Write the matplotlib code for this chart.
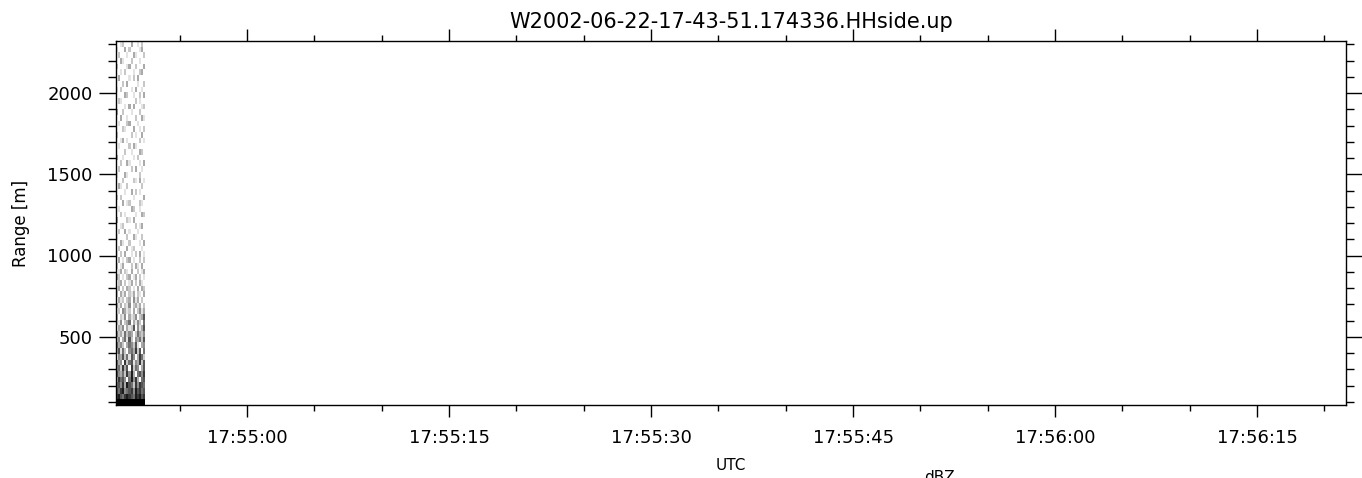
import datetime as dt
import matplotlib
matplotlib.use("Agg")
import matplotlib.pyplot as plt
import matplotlib.dates as mdates
import numpy as np

# radar reflectivity strip (darkness 0..9), rows top (far range) -> bottom (near range)
refl_rows = [
    "00120003001020", "10003020000130", "02000100310002", "00310002000100",
    "20000130020003", "00102000100230", "03000010203000", "00020300001002",
    "10200001030010", "00003200100203", "02100000020100", "00001030300012",
    "30020001000200", "00300100020031", "01000230001000", "00021000300102",
    "20000002010030", "00130100000201", "01000020310000", "00002001000320",
    "30010000102000", "00200310000103", "02000002030010", "10003100000200",
    "00020000210301", "03100200000020", "00001003020100", "20200000100003",
    "00030120000210", "01000003200100", "00201000010032", "30000210300000",
    "00120000020130", "02003010001000", "10000200310020", "00310020000103",
    "02000301200010",
    "10203001020301", "03010230100202", "20130002031030", "01302103002013",
    "32010230130201", "02302013020310", "13020320103032", "20313021302103",
    "03120230413020", "31302140231302", "12043120302413", "30214031240236",
    "21402350314205", "03240312604136",
    "42315243025324", "24035162043526", "53420354261034", "36152045372605",
    "04362516403752", "53407256143726", "45273607254036", "64352748305647",
    "37564058473056", "56473865274765", "65784567486756", "78657876587867",
    "99999999999999",
]
range_min, range_max = 80, 2320          # m
t_start = dt.datetime(2002, 6, 22, 17, 54, 50, 270000)
t_step = 0.154                           # s per profile
t_view = (dt.datetime(2002, 6, 22, 17, 54, 50, 270000),
          dt.datetime(2002, 6, 22, 17, 56, 21, 600000))
title = "W2002-06-22-17-43-51.174336.HHside.up"

refl = np.array([[int(c) for c in r] for r in refl_rows], dtype=float)[::-1]
n_rows, n_cols = refl.shape
t_edges = mdates.date2num([t_start + dt.timedelta(seconds=i * t_step) for i in range(n_cols + 1)])
r_edges = np.linspace(range_min, range_max, n_rows + 1)

fig = plt.figure(figsize=(13.62, 4.78), dpi=100)
ax = fig.add_axes([116 / 1362, 73 / 478, 1230 / 1362, 364 / 478])
ax.pcolormesh(t_edges, r_edges, refl, cmap="gray_r", vmin=0, vmax=9, shading="flat")

ax.set_xlim(mdates.date2num(t_view[0]), mdates.date2num(t_view[1]))
ax.set_ylim(range_min, range_max)

ax.xaxis.set_major_locator(mdates.SecondLocator(bysecond=range(0, 60, 15)))
ax.xaxis.set_minor_locator(mdates.SecondLocator(bysecond=range(0, 60, 5)))
ax.xaxis.set_major_formatter(mdates.DateFormatter("%H:%M:%S"))
ax.set_yticks([500, 1000, 1500, 2000])
ax.set_yticks(np.arange(100, 2400, 100), minor=True)

ax.tick_params(axis="both", which="both", direction="out", top=True, right=True,
               width=1, color="black", labelsize=13)
ax.tick_params(axis="x", which="major", length=8.5, pad=9)
ax.tick_params(axis="x", which="minor", length=4)
ax.tick_params(axis="y", which="major", length=12, pad=5)
ax.tick_params(axis="y", which="minor", length=5.5)
for s in ax.spines.values():
    s.set_linewidth(1)

ax.set_ylabel("Range [m]", fontsize=12, labelpad=12)
ax.set_xlabel("UTC", fontsize=11, labelpad=8)
ax.set_title(title, fontsize=15, pad=9)
fig.text(0.69, -0.009, "dBZ", fontsize=11, ha="center", va="baseline")

fig.savefig("out.png", dpi=100)
